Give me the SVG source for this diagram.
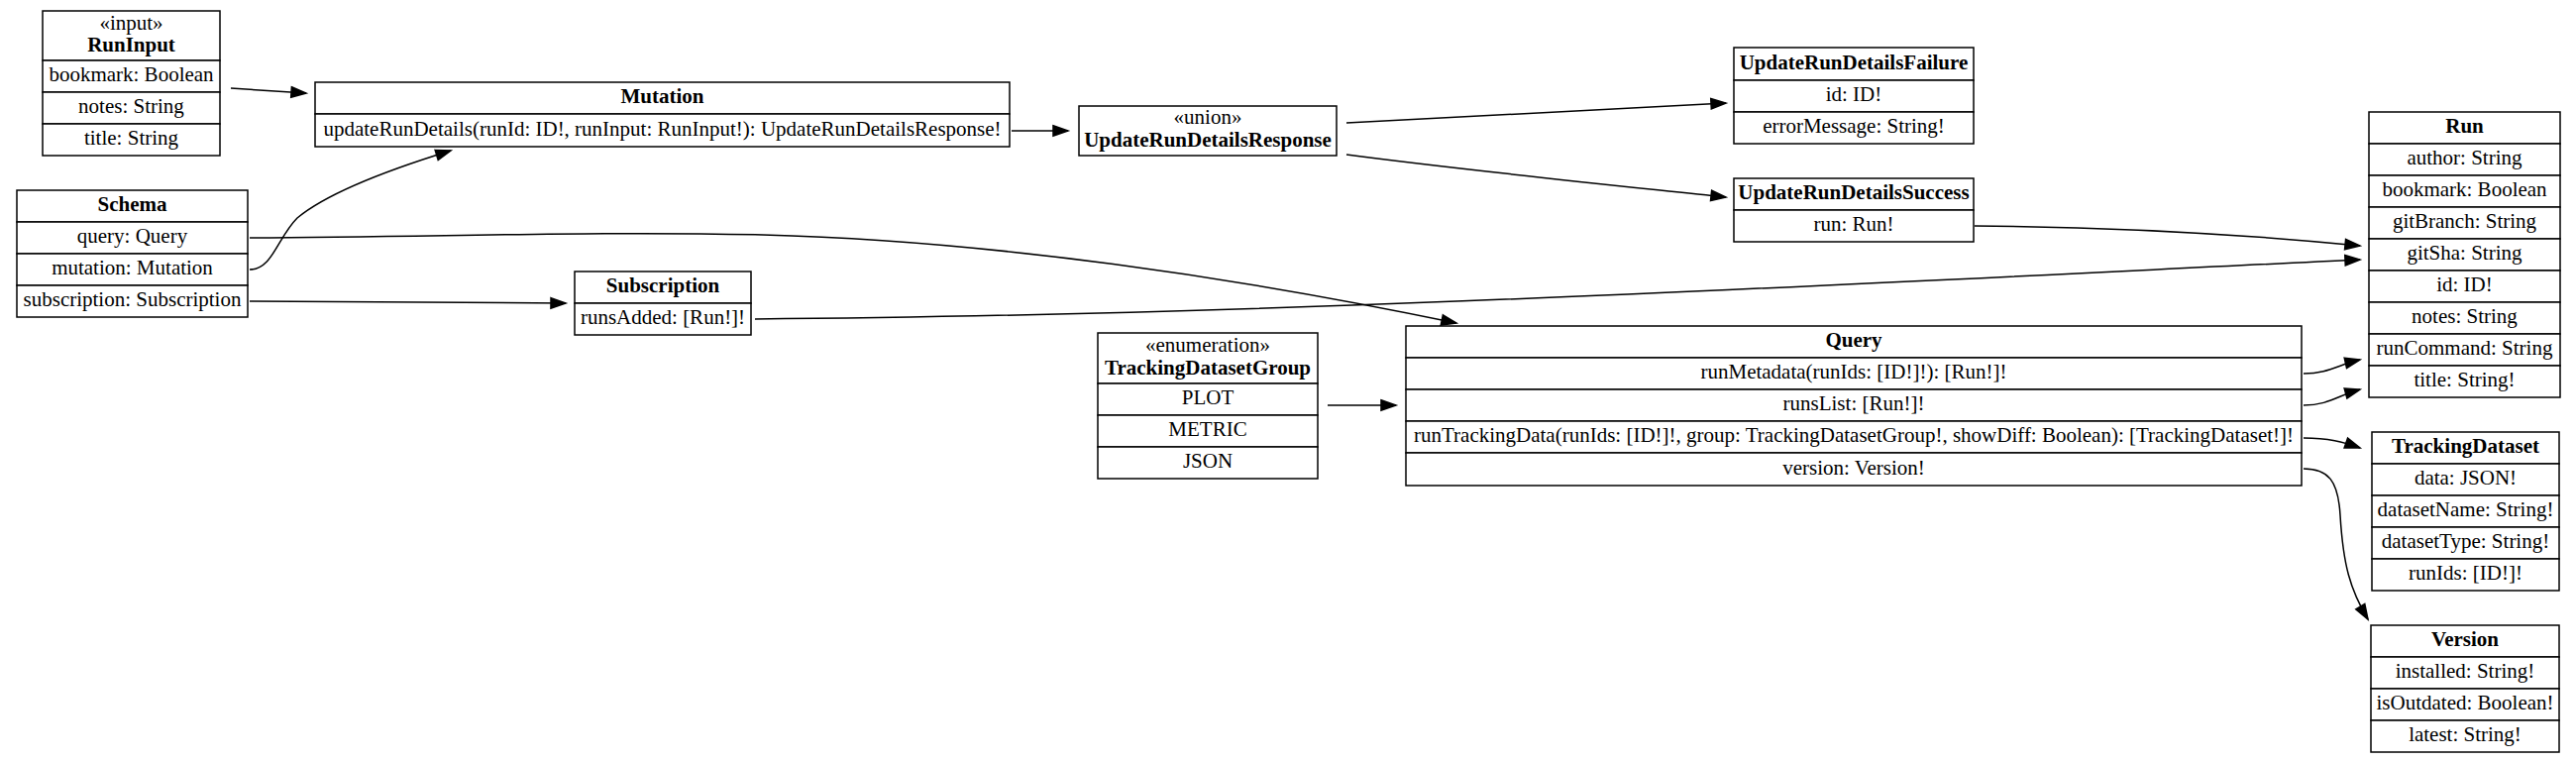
<svg xmlns="http://www.w3.org/2000/svg" width="2600" height="769" viewBox="0 0 2600 769">
<style>
.c{fill:#fff;stroke:#000;stroke-width:1.5}
text{font-family:"Liberation Serif","Times New Roman",serif;font-size:21px;fill:#000;text-anchor:middle}
.b{font-weight:bold}
.e{fill:none;stroke:#000;stroke-width:1.5;marker-end:url(#arr)}
</style>
<defs>
<marker id="arr" markerUnits="userSpaceOnUse" markerWidth="15" markerHeight="10.5" viewBox="0 0 15 10.5" refX="15" refY="5.25" orient="auto" overflow="visible">
<path d="M0,0 L15,5.25 L0,10.5 z" fill="#000" stroke="#000" stroke-width="1.5"/>
</marker>
</defs>
<rect width="2600" height="769" fill="#fff"/>

<g id="RunInput">
<rect class="c" x="43" y="11" width="179" height="50"/>
<rect class="c" x="43" y="61" width="179" height="32"/>
<rect class="c" x="43" y="93" width="179" height="32"/>
<rect class="c" x="43" y="125" width="179" height="32"/>
<text x="132.5" y="29.5">«input»</text>
<text class="b" x="132.5" y="52">RunInput</text>
<text x="132.5" y="82">bookmark: Boolean</text>
<text x="132.5" y="114">notes: String</text>
<text x="132.5" y="146">title: String</text>
</g>

<g id="Schema">
<rect class="c" x="17" y="192" width="233" height="32"/>
<rect class="c" x="17" y="224" width="233" height="32"/>
<rect class="c" x="17" y="256" width="233" height="32"/>
<rect class="c" x="17" y="288" width="233" height="32"/>
<text class="b" x="133.5" y="213">Schema</text>
<text x="133.5" y="245">query: Query</text>
<text x="133.5" y="277">mutation: Mutation</text>
<text x="133.5" y="309">subscription: Subscription</text>
</g>

<g id="Mutation">
<rect class="c" x="318" y="83" width="701" height="32"/>
<rect class="c" x="318" y="115" width="701" height="33"/>
<text class="b" x="668.5" y="104">Mutation</text>
<text x="668.5" y="137">updateRunDetails(runId: ID!, runInput: RunInput!): UpdateRunDetailsResponse!</text>
</g>

<g id="UpdateRunDetailsResponse">
<rect class="c" x="1089" y="107" width="260" height="50"/>
<text x="1219" y="125">«union»</text>
<text class="b" x="1219" y="147.5">UpdateRunDetailsResponse</text>
</g>

<g id="UpdateRunDetailsFailure">
<rect class="c" x="1750" y="48" width="242" height="33"/>
<rect class="c" x="1750" y="81" width="242" height="32"/>
<rect class="c" x="1750" y="113" width="242" height="32"/>
<text class="b" x="1871" y="69.5">UpdateRunDetailsFailure</text>
<text x="1871" y="102">id: ID!</text>
<text x="1871" y="134">errorMessage: String!</text>
</g>

<g id="UpdateRunDetailsSuccess">
<rect class="c" x="1750" y="180" width="242" height="32"/>
<rect class="c" x="1750" y="212" width="242" height="32"/>
<text class="b" x="1871" y="201">UpdateRunDetailsSuccess</text>
<text x="1871" y="233">run: Run!</text>
</g>

<g id="Subscription">
<rect class="c" x="580" y="274" width="178" height="32"/>
<rect class="c" x="580" y="306" width="178" height="32"/>
<text class="b" x="669" y="295">Subscription</text>
<text x="669" y="327">runsAdded: [Run!]!</text>
</g>

<g id="TrackingDatasetGroup">
<rect class="c" x="1108" y="336" width="222" height="51"/>
<rect class="c" x="1108" y="387" width="222" height="32"/>
<rect class="c" x="1108" y="419" width="222" height="32"/>
<rect class="c" x="1108" y="451" width="222" height="32"/>
<text x="1219" y="355">«enumeration»</text>
<text class="b" x="1219" y="378">TrackingDatasetGroup</text>
<text x="1219" y="408">PLOT</text>
<text x="1219" y="440">METRIC</text>
<text x="1219" y="472">JSON</text>
</g>

<g id="Query">
<rect class="c" x="1419" y="329" width="904" height="32"/>
<rect class="c" x="1419" y="361" width="904" height="32"/>
<rect class="c" x="1419" y="393" width="904" height="32"/>
<rect class="c" x="1419" y="425" width="904" height="32"/>
<rect class="c" x="1419" y="457" width="904" height="33"/>
<text class="b" x="1871" y="350">Query</text>
<text x="1871" y="382">runMetadata(runIds: [ID!]!): [Run!]!</text>
<text x="1871" y="414">runsList: [Run!]!</text>
<text x="1871" y="446">runTrackingData(runIds: [ID!]!, group: TrackingDatasetGroup!, showDiff: Boolean): [TrackingDataset!]!</text>
<text x="1871" y="479">version: Version!</text>
</g>

<g id="Run">
<rect class="c" x="2391" y="113" width="193" height="32"/>
<rect class="c" x="2391" y="145" width="193" height="32"/>
<rect class="c" x="2391" y="177" width="193" height="32"/>
<rect class="c" x="2391" y="209" width="193" height="32"/>
<rect class="c" x="2391" y="241" width="193" height="32"/>
<rect class="c" x="2391" y="273" width="193" height="32"/>
<rect class="c" x="2391" y="305" width="193" height="32"/>
<rect class="c" x="2391" y="337" width="193" height="32"/>
<rect class="c" x="2391" y="369" width="193" height="32"/>
<text class="b" x="2487.5" y="134">Run</text>
<text x="2487.5" y="166">author: String</text>
<text x="2487.5" y="198">bookmark: Boolean</text>
<text x="2487.5" y="230">gitBranch: String</text>
<text x="2487.5" y="262">gitSha: String</text>
<text x="2487.5" y="294">id: ID!</text>
<text x="2487.5" y="326">notes: String</text>
<text x="2487.5" y="358">runCommand: String</text>
<text x="2487.5" y="390">title: String!</text>
</g>

<g id="TrackingDataset">
<rect class="c" x="2394" y="436" width="189" height="32"/>
<rect class="c" x="2394" y="468" width="189" height="32"/>
<rect class="c" x="2394" y="500" width="189" height="32"/>
<rect class="c" x="2394" y="532" width="189" height="32"/>
<rect class="c" x="2394" y="564" width="189" height="32"/>
<text class="b" x="2488.5" y="457">TrackingDataset</text>
<text x="2488.5" y="489">data: JSON!</text>
<text x="2488.5" y="521">datasetName: String!</text>
<text x="2488.5" y="553">datasetType: String!</text>
<text x="2488.5" y="585">runIds: [ID!]!</text>
</g>

<g id="Version">
<rect class="c" x="2393" y="631" width="190" height="32"/>
<rect class="c" x="2393" y="663" width="190" height="32"/>
<rect class="c" x="2393" y="695" width="190" height="32"/>
<rect class="c" x="2393" y="727" width="190" height="32"/>
<text class="b" x="2488" y="652">Version</text>
<text x="2488" y="684">installed: String!</text>
<text x="2488" y="716">isOutdated: Boolean!</text>
<text x="2488" y="748">latest: String!</text>
</g>

<g id="edges">
<path class="e" d="M233,89 L309,94"/>
<path class="e" d="M252,272 C275,272 280,240 300,220 C330,195 390,172 455,152"/>
<path class="e" d="M252,240 C450,239 600,233 770,237 C1000,243 1250,280 1470,326"/>
<path class="e" d="M252,304 L571,306"/>
<path class="e" d="M1021,132 L1078,132"/>
<path class="e" d="M1359,124 L1742,104"/>
<path class="e" d="M1359,156 C1480,172 1620,186 1742,199"/>
<path class="e" d="M1993,228 C2150,229 2280,238 2382,248"/>
<path class="e" d="M762,322 C1300,318 1900,285 2382,262"/>
<path class="e" d="M2325,377 C2350,377 2360,368 2382,363"/>
<path class="e" d="M2325,409 C2350,409 2360,399 2382,393"/>
<path class="e" d="M2325,442 C2350,442 2365,446 2382,452"/>
<path class="e" d="M2325,473 C2350,473 2360,485 2362,520 C2365,570 2372,595 2390,625"/>
<path class="e" d="M1340,409 L1409,409"/>
</g>
</svg>
